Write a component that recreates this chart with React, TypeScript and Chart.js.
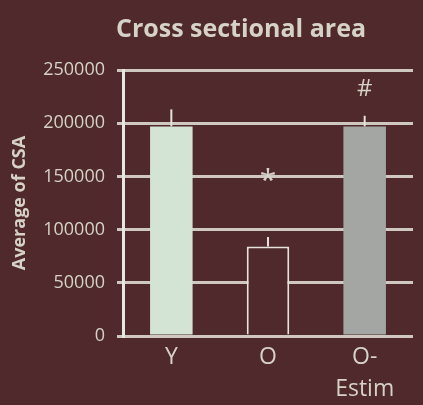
import React, { useEffect, useRef } from "react";
import { Chart, registerables } from "chart.js";

Chart.register(...registerables);

const chartTitle = "Cross sectional area";
const yAxisTitle = "Average of CSA";
const categories: (string | string[])[] = ["Y", "O", ["O-", "Estim"]];
const csaValues = [197000, 84000, 197000];
const csaErrorTops = [213000, 93000, 207000];
const markLabels = ["", "*", "#"];
const markValues = [0, 145000, 232000];
const yTicks = [0, 50000, 100000, 150000, 200000, 250000];

const BG = "#4f292b";
const INK = "#d6d2c8";
const GRID = "#cfc8c0";

const barMarks = {
  id: "barMarks",
  afterDatasetsDraw(chart: any) {
    const ctx = chart.ctx;
    const meta = chart.getDatasetMeta(0);
    const y = chart.scales.y;
    ctx.save();
    ctx.strokeStyle = "#e4e2dc";
    ctx.lineWidth = 2;
    meta.data.forEach((bar: any, i: number) => {
      const yTop = y.getPixelForValue(csaErrorTops[i]);
      ctx.beginPath();
      ctx.moveTo(bar.x, bar.y);
      ctx.lineTo(bar.x, yTop);
      ctx.stroke();
      if (markLabels[i]) {
        ctx.fillStyle = INK;
        ctx.font = (markLabels[i] === "*" ? "30px" : "24px") + " 'Open Sans'";
        ctx.textAlign = "center";
        ctx.textBaseline = "middle";
        ctx.fillText(markLabels[i], bar.x, y.getPixelForValue(markValues[i]));
      }
    });
    ctx.restore();
  },
  afterDraw(chart: any) {
    const ctx = chart.ctx;
    ctx.save();
    ctx.fillStyle = INK;
    ctx.font = "bold 25px 'Open Sans'";
    ctx.textAlign = "center";
    ctx.textBaseline = "middle";
    ctx.fillText(chartTitle, 241, 30);
    ctx.restore();
  },
};

export default function App() {
  const ref = useRef<HTMLCanvasElement>(null);
  useEffect(() => {
    document.body.style.margin = "0";
    document.body.style.background = BG;
    const chart = new Chart(ref.current!, {
      type: "bar",
      data: {
        labels: categories,
        datasets: [
          {
            data: csaValues,
            backgroundColor: ["#d4e4d4", BG, "#a3a6a2"],
            borderColor: ["#d4e4d4", "#e6e4de", "#a3a6a2"],
            borderWidth: [0, 2, 0],
            barPercentage: 0.44,
            categoryPercentage: 1,
          },
        ],
      },
      options: {
        responsive: false,
        animation: false,
        layout: { padding: { left: 0, right: 10, top: 70, bottom: 0 } },
        plugins: {
          legend: { display: false },
          tooltip: { enabled: false },
          title: { display: false },
        },
        scales: {
          x: {
            grid: { display: false },
            border: { display: false },
            ticks: {
              color: INK,
              font: { family: "'Open Sans'", size: 23, lineHeight: 1.4 },
              padding: -3,
              maxRotation: 0,
            },
            afterFit(scale: any) {
              scale.height = 69;
            },
          },
          y: {
            min: 0,
            max: 250000,
            afterBuildTicks(scale: any) {
              scale.ticks = yTicks.map((v) => ({ value: v }));
            },
            grid: { color: GRID, lineWidth: 3, tickLength: 6 },
            border: { display: true, color: "#e8e6e0", width: 3 },
            ticks: {
              color: INK,
              font: { family: "'Open Sans'", size: 18 },
              padding: 12,
              callback: (v: any) => String(v),
            },
            title: {
              display: true,
              text: yAxisTitle,
              color: INK,
              font: { family: "'Open Sans'", size: 18, weight: "bold" },
              padding: { top: 9, bottom: 0 },
            },
            afterFit(scale: any) {
              scale.width = 123;
            },
          },
        },
      },
      plugins: [barMarks],
    });
    return () => chart.destroy();
  }, []);
  return (
    <div style={{ width: 423, height: 405, background: BG }}>
      <canvas ref={ref} width={423} height={405} />
    </div>
  );
}
